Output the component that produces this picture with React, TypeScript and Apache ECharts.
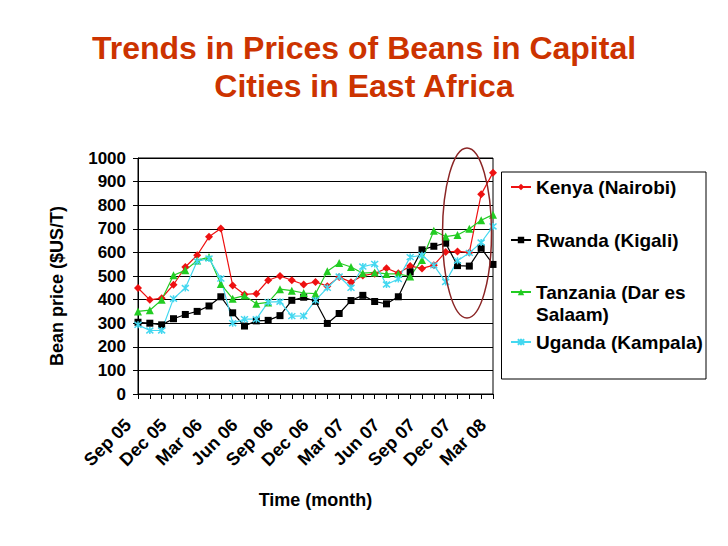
import React, { useEffect, useRef } from "react";
import * as echarts from "echarts";

const FONT = "'Liberation Sans', Arial, Helvetica, sans-serif";

const months = [
  "Sep 05", "Oct 05", "Nov 05", "Dec 05", "Jan 06", "Feb 06", "Mar 06", "Apr 06",
  "May 06", "Jun 06", "Jul 06", "Aug 06", "Sep 06", "Oct 06", "Nov 06", "Dec 06",
  "Jan 07", "Feb 07", "Mar 07", "Apr 07", "May 07", "Jun 07", "Jul 07", "Aug 07",
  "Sep 07", "Oct 07", "Nov 07", "Dec 07", "Jan 08", "Feb 08", "Mar 08",
];

const kenya = [449, 399, 406, 463, 538, 588, 666, 701, 460, 422, 425, 482, 500, 482, 464, 475, 457, 496, 474, 502, 510, 533, 512, 542, 532, 546, 602, 604, 600, 846, 938];
const rwanda = [304, 300, 293, 319, 337, 350, 373, 412, 344, 288, 310, 312, 332, 397, 410, 393, 299, 341, 396, 418, 392, 382, 412, 517, 611, 626, 639, 544, 542, 618, 549];
const tanzania = [350, 355, 399, 503, 524, 566, 580, 466, 404, 417, 382, 388, 444, 438, 428, 425, 520, 555, 538, 512, 515, 509, 509, 498, 568, 692, 667, 674, 700, 736, 760];
const uganda = [293, 269, 269, 404, 449, 562, 574, 489, 300, 317, 317, 389, 391, 330, 331, 397, 450, 498, 450, 540, 551, 464, 487, 580, 588, 545, 475, 565, 598, 642, 710];

const seriesNames = ["Kenya (Nairobi)", "Rwanda (Kigali)", "Tanzania (Dar es Salaam)", "Uganda (Kampala)"];
const legendLabels = ["Kenya (Nairobi)", "Rwanda (Kigali)", "\nTanzania (Dar es\nSalaam)", "Uganda (Kampala)"];
const colors = ["#ee1111", "#000000", "#22cc22", "#44d8f0"];

export default function App() {
  const ref = useRef<HTMLDivElement>(null);
  useEffect(() => {
    if (!ref.current) return;
    const chart = echarts.init(ref.current, undefined, { renderer: "svg" });
    const legendTops = [176, 229, 259, 331];
    const legends = seriesNames.map((n, i) => ({
      data: [n],
      left: 510,
      top: legendTops[i],
      orient: "vertical",
      padding: 0,
      itemWidth: 20,
      itemHeight: 8,
      itemGap: 0,
      selectedMode: false,
      formatter: () => legendLabels[i],
      textStyle: {
        fontFamily: FONT,
        fontSize: 19,
        fontWeight: "bold",
        color: "#000",
        lineHeight: 22,
      },
    }));
    const dataSets = [kenya, rwanda, tanzania, uganda];
    const symbols = ["diamond", "rect", "triangle", "path://M0,0L10,10M10,0L0,10M5,-1L5,11"];
    const sizes = [8, 7, 8, 7];
    const option = {
      animation: false,
      backgroundColor: "#ffffff",
      title: {
        text: "Trends in Prices of Beans in Capital\nCities in East Africa",
        left: "center",
        top: 29,
        padding: 0,
        textStyle: {
          fontFamily: FONT,
          fontSize: 32,
          fontWeight: "bold",
          color: "#cc3300",
          lineHeight: 38,
        },
      },
      legend: legends,
      grid: {
        left: 138,
        right: 235,
        top: 158,
        bottom: 152,
        show: true,
        borderColor: "#000",
        borderWidth: 1,
        containLabel: false,
      },
      xAxis: {
        type: "category",
        data: months,
        boundaryGap: false,
        name: "Time (month)",
        nameLocation: "middle",
        nameGap: 97,
        nameTextStyle: { fontFamily: FONT, fontSize: 18, fontWeight: "bold", color: "#000" },
        axisLine: { show: true, lineStyle: { color: "#000", width: 1 } },
        axisTick: { show: true, interval: 0, length: 5, lineStyle: { color: "#000" } },
        axisLabel: {
          interval: 2,
          rotate: 45,
          margin: 18,
          padding: [0, 14, 0, 0],
          fontFamily: FONT,
          fontSize: 18,
          fontWeight: "bold",
          color: "#000",
        },
        splitLine: { show: false },
      },
      yAxis: {
        type: "value",
        min: 0,
        max: 1000,
        interval: 100,
        name: "Bean price ($US/T)",
        nameLocation: "middle",
        nameRotate: 90,
        nameGap: 72,
        nameTextStyle: {
          fontFamily: FONT,
          fontSize: 18,
          fontWeight: "bold",
          color: "#000",
          padding: [0, 20, 0, 0],
        },
        axisLine: { show: true, lineStyle: { color: "#000", width: 1 } },
        axisTick: { show: true, length: 5, lineStyle: { color: "#000" } },
        axisLabel: {
          margin: 12,
          fontFamily: FONT,
          fontSize: 17,
          fontWeight: "bold",
          color: "#000",
          formatter: (v: number) => String(v),
        },
        splitLine: { show: true, lineStyle: { color: "#000", width: 1 } },
      },
      series: seriesNames.map((n, i) => ({
        name: n,
        type: "line",
        data: dataSets[i],
        symbol: symbols[i],
        symbolSize: sizes[i],
        showAllSymbol: true,
        color: colors[i],
        lineStyle: { color: colors[i], width: 1.2 },
        itemStyle: i === 3
          ? { color: colors[i], borderColor: colors[i], borderWidth: 1.5 }
          : { color: colors[i] },
        emphasis: { disabled: true },
      })),
      graphic: [
        {
          type: "rect",
          shape: { x: 501.5, y: 172, width: 204.5, height: 207 },
          style: { fill: "none", stroke: "#000", lineWidth: 1 },
          z: 1,
        },
        {
          type: "ellipse",
          shape: { cx: 467, cy: 233, rx: 24.5, ry: 85 },
          style: { fill: "none", stroke: "#8b2525", lineWidth: 1.5 },
          z: 100,
        },
      ],
    };
    chart.setOption(option as any);
    return () => chart.dispose();
  }, []);
  return (
    <div
      ref={ref}
      style={{ position: "fixed", left: 0, top: 0, width: 728, height: 546, background: "#fff" }}
    />
  );
}
